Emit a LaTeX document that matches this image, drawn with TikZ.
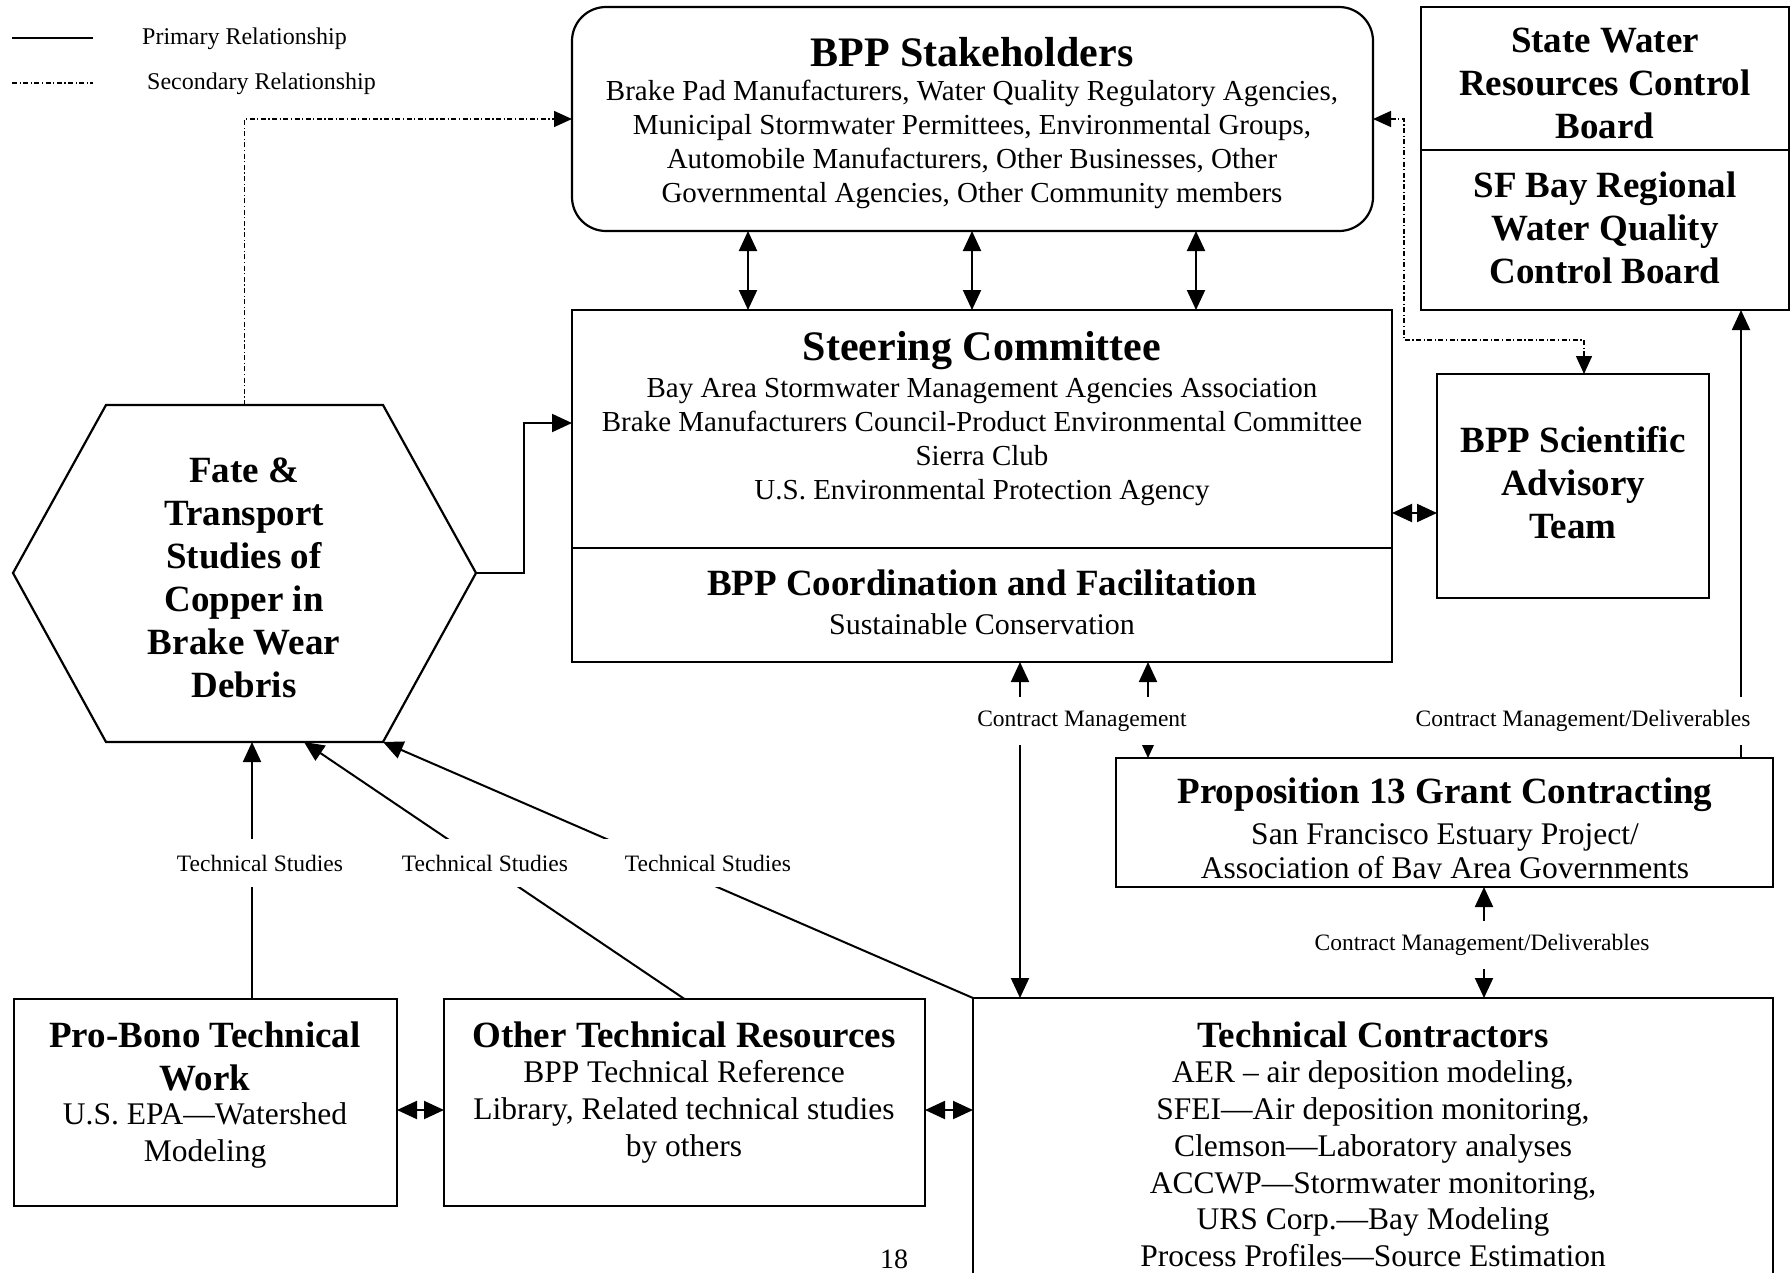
\documentclass[tikz,border=0pt]{standalone}
\usepackage{fontspec}
\setmainfont{Liberation Serif}
\usetikzlibrary{arrows.meta,calc}
\newcommand\fsBig{\fontsize{42pt}{50pt}\selectfont\bfseries}
\newcommand\fsHead{\fontsize{37pt}{43pt}\selectfont\bfseries}
\newcommand\fsBody{\fontsize{29pt}{34pt}\selectfont}
\newcommand\fsBodyM{\fontsize{30pt}{36pt}\selectfont}
\newcommand\fsBodyL{\fontsize{31.5pt}{37pt}\selectfont}
\newcommand\fsSmall{\fontsize{23.5pt}{28pt}\selectfont}
\begin{document}
\begin{tikzpicture}[x=1pt,y=-1pt,
  box/.style={draw, line width=2.2pt, inner sep=0pt, outer sep=0pt},
  txt/.style={inner sep=0pt, align=center},
  conn/.style={line width=2pt},
  sec/.style={line width=1.4pt, dash pattern=on 5pt off 2.5pt on 1.2pt off 2.5pt},
  lbl/.style={fill=white, inner xsep=4pt, inner ysep=0pt, minimum height=48pt, font=\fsSmall},
  tslbl/.style={lbl, inner xsep=25pt},
  >={Triangle[length=20pt,width=18pt]}]
\useasboundingbox (0,0) rectangle (1791,1272);
\clip (0,0) rectangle (1791,1272);

% legend
\coordinate (lg1) at (12,38); \coordinate (lg2) at (93,38);
\coordinate (lg3) at (12,83); \coordinate (lg4) at (93,83);
\draw[conn] (lg1) -- (lg2);
\draw[sec] (lg3) -- (lg4);
\node[anchor=west, inner sep=0pt, font=\fontsize{24pt}{28pt}\selectfont] (lgp) at (142,39) {Primary Relationship};
\node[anchor=west, inner sep=0pt, font=\fontsize{24pt}{28pt}\selectfont] (lgs) at (147,84) {Secondary Relationship};

% boxes
\node[box, rounded corners=34pt, minimum width=801pt, minimum height=224pt] (sh) at (972.5,119) {};
\node[box, minimum width=820pt, minimum height=238pt] (steer) at (982,429) {};
\node[box, minimum width=820pt, minimum height=114pt] (coord) at (982,605) {};
\node[box, minimum width=368pt, minimum height=143pt] (swrcb) at (1605,78.5) {};
\node[box, minimum width=368pt, minimum height=160pt] (sfb) at (1605,230) {};
\node[box, minimum width=272pt, minimum height=224pt] (sat) at (1573,486) {};
\node[box, minimum width=657pt, minimum height=129pt] (p13) at (1444.5,822.5) {};
\node[box, minimum width=800pt, minimum height=292pt] (tc) at (1373,1144) {};
\node[box, minimum width=383pt, minimum height=207pt] (pb) at (205.5,1102.5) {};
\node[box, minimum width=481pt, minimum height=207pt] (other) at (684.5,1102.5) {};

% hexagon
\coordinate (hL) at (13,573); \coordinate (hTL) at (106,405);
\coordinate (hTR) at (383,405); \coordinate (hR) at (476,573);
\coordinate (hBR) at (383,742); \coordinate (hBL) at (106,742);
\coordinate (hT) at (244.5,405);
\draw[line width=2.2pt] (hL) -- (hTL) -- (hTR) -- (hR) -- (hBR) -- (hBL) -- cycle;

% texts
\node[txt, font=\fsBig] (shT) at (972,52) {BPP Stakeholders};
\node[txt, font=\fsBody] (shB) at (972,144) {Brake Pad Manufacturers, Water Quality Regulatory Agencies,\\Municipal Stormwater Permittees, Environmental Groups,\\Automobile Manufacturers, Other Businesses, Other\\Governmental Agencies, Other Community members};
\node[txt, font=\fsBig] (stT) at (982,351) {Steering Committee};
\node[txt, font=\fsBody] (stB) at (982,442) {Bay Area Stormwater Management Agencies Association\\Brake Manufacturers Council-Product Environmental Committee\\Sierra Club\\U.S. Environmental Protection Agency};
\node[txt, font=\fsHead] (coT) at (982,583) {BPP Coordination and Facilitation};
\node[txt, font=\fsBodyM] (coB) at (982,624) {Sustainable Conservation};
\node[txt, font=\fsHead] (swT) at (1605,83) {State Water\\Resources Control\\Board};
\node[txt, font=\fsHead] (sfT) at (1605,228) {SF Bay Regional\\Water Quality\\Control Board};
\node[txt, font=\fsHead] (satT) at (1573,483) {BPP Scientific\\Advisory\\Team};
\node[txt, font=\fsHead] (hexT) at (244,578) {Fate \&\\Transport\\Studies of\\Copper in\\Brake Wear\\Debris};
\node[txt, font=\fsHead] (p13T) at (1445,795) {Proposition 13 Grant Contracting};
\node[txt, font=\fsBodyL] (p13B1) at (1445,837) {San Francisco Estuary Project/};
\begin{scope}
\clip (1117,759) rectangle (1772,878);
\node[txt, font=\fsBodyL] (p13B2) at (1445,871) {Association of Bay Area Governments};
\end{scope}
\node[txt, font=\fsHead] (tcT) at (1373,1035) {Technical Contractors};
\node[txt, font=\fontsize{31.5pt}{36.8pt}\selectfont] (tcB) at (1373,1164) {AER – air deposition modeling,\\SFEI—Air deposition monitoring,\\Clemson—Laboratory analyses\\ACCWP—Stormwater monitoring,\\URS Corp.—Bay Modeling\\Process Profiles—Source Estimation};
\node[txt, font=\fsHead] (pbT) at (205,1056) {Pro-Bono Technical\\Work};
\node[txt, font=\fsBodyL] (pbB) at (205,1135) {U.S. EPA—Watershed\\Modeling};
\node[txt, font=\fsHead] (otT) at (684,1035) {Other Technical Resources};
\node[txt, font=\fsBodyL] (otB) at (684,1112) {BPP Technical Reference\\Library, Related technical studies\\by others};
\node[txt, font=\fontsize{28pt}{34pt}\selectfont] (pg) at (894,1259) {18};

% helper coordinates
\coordinate (xa) at (748,0); \coordinate (xb) at (972,0); \coordinate (xc) at (1196,0);
\coordinate (xd) at (1020,0); \coordinate (xe) at (1148,0); \coordinate (xf) at (1741,0);
\coordinate (xg) at (1484,0); \coordinate (ya) at (0,513); \coordinate (yb) at (0,1110);
\coordinate (j1) at (524,423); \coordinate (d1) at (1404,340); \coordinate (d2) at (1584,0);
\coordinate (t1) at (252,742); \coordinate (t2) at (304,742);

% connectors
\draw[conn,<->] (xa |- sh.south) -- (xa |- steer.north);
\draw[conn,<->] (xb |- sh.south) -- (xb |- steer.north);
\draw[conn,<->] (xc |- sh.south) -- (xc |- steer.north);
\draw[conn,<->] (steer.east |- ya) -- (sat.west |- ya);
\draw[conn,->] (hR) -| (j1) -- (j1 -| steer.west);
\draw[sec,-{Triangle[length=18pt,width=16pt]}] (hT) |- (sh.west);
\draw[sec,{Triangle[length=18pt,width=16pt]}-{Triangle[length=18pt,width=16pt]}] (sh.east) -| (d1) -| (d2 |- sat.north);
\draw[conn,<->] (xd |- coord.south) -- (xd |- tc.north);
\draw[conn,<->] (xe |- coord.south) -- (xe |- p13.north);
\draw[conn,->] (xf |- p13.north) -- (xf |- sfb.south);
\draw[conn,<->] (xg |- p13.south) -- (xg |- tc.north);
\draw[conn,<->] (pb.east |- yb) -- (other.west |- yb);
\draw[conn,<->] (other.east |- yb) -- (tc.west |- yb);
\draw[conn,->] (t1 |- pb.north) -- (t1);
\draw[conn,->] (other.north) -- (t2);
\draw[conn,->] (tc.north west) -- (hBR);

% labels
\node[lbl] (cm1) at (1082,721) {Contract Management};
\node[lbl] (cm2) at (1583,721) {Contract Management/Deliverables};
\node[lbl] (cm3) at (1482,945) {Contract Management/Deliverables};
\node[tslbl] (ts1) at (260,863) {Technical Studies};
\node[tslbl] (ts2) at (485,863) {Technical Studies};
\node[tslbl] (ts3) at (708,863) {Technical Studies};
\end{tikzpicture}
\end{document}
